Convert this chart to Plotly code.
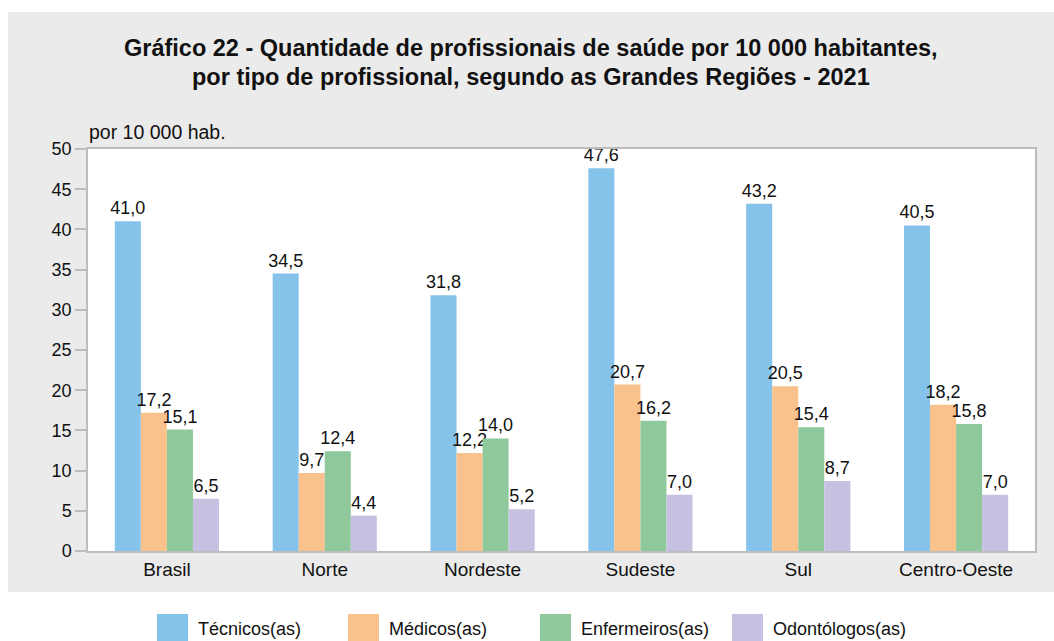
import plotly.graph_objects as go

# Data: professionals per 10 000 inhabitants, 2021
regioes = ["Brasil", "Norte", "Nordeste", "Sudeste", "Sul", "Centro-Oeste"]
series_nomes = ["Técnicos(as)", "Médicos(as)", "Enfermeiros(as)", "Odontólogos(as)"]
tecnicos = [41.0, 34.5, 31.8, 47.6, 43.2, 40.5]
medicos = [17.2, 9.7, 12.2, 20.7, 20.5, 18.2]
enfermeiros = [15.1, 12.4, 14.0, 16.2, 15.4, 15.8]
odontologos = [6.5, 4.4, 5.2, 7.0, 8.7, 7.0]
y_ticks = [0, 5, 10, 15, 20, 25, 30, 35, 40, 45, 50]

titulo = [
    "Gráfico 22 - Quantidade de profissionais de saúde por 10 000 habitantes,",
    "por tipo de profissional, segundo as Grandes Regiões - 2021",
]

cores = ["#86C3EA", "#F9C18B", "#8FC89A", "#C6C1E1"]
valores = [tecnicos, medicos, enfermeiros, odontologos]

FONT = "Liberation Sans, Arial, sans-serif"
W, H = 1054, 641
PL, PR, PT, PB = 88, 1035, 149, 551  # plot area in pixels


def px_x(px):
    return (px - PL) / (PR - PL)


def px_y(py):
    return (PB - py) / (PB - PT)


fig = go.Figure()
for nome, vals, cor in zip(series_nomes, valores, cores):
    fig.add_trace(go.Bar(
        x=regioes, y=vals, name=nome,
        marker=dict(color=cor, line=dict(width=0)),
        texttemplate="%{y:.1f}", textposition="outside",
        constraintext="none",
        textfont=dict(family=FONT, size=18, color="#111111"),
        cliponaxis=False, showlegend=False,
    ))

shapes = [
    # grey panel behind the chart
    dict(type="rect", xref="paper", yref="paper", layer="below",
         x0=px_x(8), x1=px_x(W + 2), y0=px_y(592), y1=px_y(12),
         fillcolor="#EBEBEB", line=dict(width=0)),
    # white plotting area
    dict(type="rect", xref="paper", yref="paper", layer="below",
         x0=0, x1=1, y0=0, y1=1, fillcolor="white", line=dict(width=0)),
]

annotations = [
    dict(text="por 10 000 hab.", xref="paper", yref="paper",
         x=px_x(87), y=px_y(132), xanchor="left", yanchor="middle",
         showarrow=False, font=dict(family=FONT, size=19.5, color="#111111")),
]

# two-line bold title
for linha, cy in zip(titulo, [48, 77]):
    annotations.append(dict(text=f"<b>{linha}</b>", xref="paper", yref="paper",
                            x=px_x(531), y=px_y(cy), xanchor="center", yanchor="middle",
                            showarrow=False,
                            font=dict(family=FONT, size=23.5, color="#111111")))

# legend row below the panel
legend_swatch_x = [157, 348, 540, 732]
for nome, cor, sx in zip(series_nomes, cores, legend_swatch_x):
    shapes.append(dict(type="rect", xref="paper", yref="paper",
                       x0=px_x(sx), x1=px_x(sx + 31), y0=px_y(643), y1=px_y(614),
                       fillcolor=cor, line=dict(width=0)))
    annotations.append(dict(text=nome, xref="paper", yref="paper",
                            x=px_x(sx + 39), y=px_y(629), xanchor="left", yanchor="middle",
                            showarrow=False,
                            font=dict(family=FONT, size=18, color="#111111")))

fig.update_layout(
    width=W, height=H,
    margin=dict(l=PL, r=W - PR, t=PT, b=H - PB, pad=0),
    paper_bgcolor="white", plot_bgcolor="white",
    separators=", ",
    barmode="group", bargap=0.34, bargroupgap=0,
    xaxis=dict(
        showline=True, linecolor="#BDBDBD", linewidth=1.5, mirror=True,
        ticks="", showgrid=False,
        tickfont=dict(family=FONT, size=19, color="#111111"),
    ),
    yaxis=dict(
        range=[0, 50], tickvals=y_ticks,
        showline=True, linecolor="#BDBDBD", linewidth=1.5, mirror=True,
        ticks="outside", ticklen=11, tickcolor="#BDBDBD", tickwidth=1.5,
        showgrid=False, zeroline=False,
        tickfont=dict(family=FONT, size=18, color="#111111"),
    ),
    shapes=shapes, annotations=annotations,
    font=dict(family=FONT),
)

fig.write_html("out.html")
